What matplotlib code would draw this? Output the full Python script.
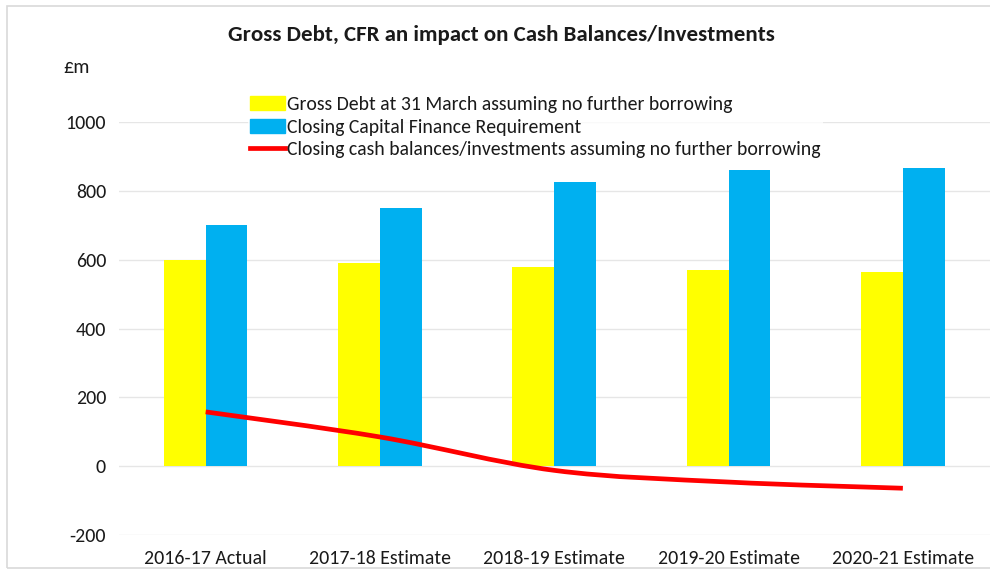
import matplotlib.pyplot as plt
from matplotlib.path import Path
from matplotlib.patches import PathPatch, Rectangle
from matplotlib.lines import Line2D
import numpy as np

years = ['2016-17 Actual', '2017-18 Estimate', '2018-19 Estimate', '2019-20 Estimate', '2020-21 Estimate']
gross_debt = [600, 590, 580, 570, 565]
cfr = [700, 750, 827, 860, 867]
cash = [158, 85, -12, -46, -64]

plt.rcParams['font.family'] = ['Carlito', 'Liberation Sans Narrow', 'DejaVu Sans']
plt.rcParams['axes.unicode_minus'] = False

fig = plt.figure(figsize=(9.9, 5.71), dpi=100)
ax = fig.add_axes([0.1197, 0.063, 0.8803, 0.723])

x = np.arange(len(years))
w = 0.24
ax.bar(x - w/2, gross_debt, w, color='#FFFF00', zorder=2)
ax.bar(x + w/2, cfr, w, color='#00B0F0', zorder=2)

# smoothed line, excel style (cubic bezier through the points)
pts = np.column_stack([x, cash]).astype(float)
verts = [pts[0]]
codes = [Path.MOVETO]
n = len(pts)
for i in range(n - 1):
    p0 = pts[max(i - 1, 0)]
    p1 = pts[i]
    p2 = pts[i + 1]
    p3 = pts[min(i + 2, n - 1)]
    c1 = p1 + (p2 - p0) / 6
    c2 = p2 - (p3 - p1) / 6
    verts += [c1, c2, p2]
    codes += [Path.CURVE4] * 3
ax.add_patch(PathPatch(Path(verts, codes), fill=False, edgecolor='#FF0000',
                       lw=3.4, capstyle='butt', zorder=3))

ax.set_xlim(-0.5, 4.5)
ax.set_ylim(-200, 1000)
ax.set_yticks(range(-200, 1001, 200))
ax.set_xticks(x)
ax.set_xticklabels(years)
ax.grid(axis='y', color='#e6e6e6', lw=1, zorder=0)
for s in ax.spines.values():
    s.set_visible(False)
ax.tick_params(length=0, labelsize=14.3, colors='#1a1a1a')
ax.tick_params(axis='y', pad=9)
ax.tick_params(axis='x', pad=11)

fig.text(0.507, 0.938, 'Gross Debt, CFR an impact on Cash Balances/Investments',
         ha='center', va='center', fontsize=16.5, fontweight='bold', color='#1a1a1a')
fig.text(0.077, 0.881, '£m', ha='center', va='center', fontsize=14.5, color='#1a1a1a')

handles = [Rectangle((0, 0), 1, 1, color='#FFFF00'),
           Rectangle((0, 0), 1, 1, color='#00B0F0'),
           Line2D([], [], color='#FF0000', lw=3.4)]
labels = ['Gross Debt at 31 March assuming no further borrowing',
          'Closing Capital Finance Requirement',
          'Closing cash balances/investments assuming no further borrowing']
leg = fig.legend(handles, labels, loc='upper left', bbox_to_anchor=(0.251, 0.835),
                 frameon=True, fontsize=14.2, handlelength=1.75, handleheight=0.7,
                 handletextpad=0.12, labelspacing=0.27, borderpad=0.1,
                 borderaxespad=0)
leg.get_frame().set_edgecolor('none')
leg.get_frame().set_facecolor('white')
for t in leg.get_texts():
    t.set_color('#1a1a1a')

# chart border
fig.add_artist(Rectangle((7/990, 3/571), 1.05, 1 - 9/571, transform=fig.transFigure,
                         fill=False, edgecolor='#d9d9d9', lw=1.2))

fig.savefig('out.png', dpi=100, facecolor='white')
